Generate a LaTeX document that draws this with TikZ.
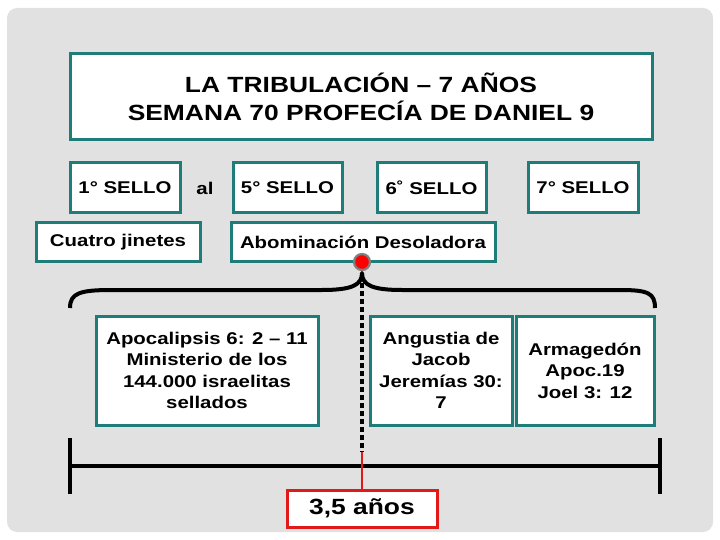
\documentclass[tikz,border=0pt]{standalone}
\usepackage{fontspec}
\setmainfont{Liberation Sans}[FakeStretch=1.2]
\definecolor{sello}{RGB}{30,125,120}
\definecolor{fondo}{RGB}{225,225,225}
\definecolor{rojo}{RGB}{225,25,25}
\begin{document}
\begin{tikzpicture}[x=1pt, y=-1pt,
  caja/.style={draw=sello, line width=3pt, fill=white, inner sep=0pt, align=center,
               font=\bfseries\fontsize{17}{21.5}\selectfont},
  titulo/.style={caja, font=\bfseries\fontsize{22}{28}\selectfont},
  linea/.style={line width=4pt}]
  \useasboundingbox (0,0) rectangle (720,540);
  \fill[fondo, rounded corners=10pt] (7,8) rectangle (713,532);

  \node[titulo, minimum width=582pt, minimum height=86pt] (titulo) at (361,97)
        {LA TRIBULACIÓN – 7 AÑOS\\SEMANA 70 PROFECÍA DE DANIEL 9};

  \node[caja, minimum width=110pt, minimum height=50pt] (sello1) at (125,188) {1° SELLO};
  \node[font=\bfseries\fontsize{17}{21}\selectfont] (al) at (205,188) {al};
  \node[caja, minimum width=109pt, minimum height=50pt] (sello5) at (287.5,188) {5° SELLO};
  \node[caja, minimum width=109pt, minimum height=50pt] (sello6) at (431.5,188) {6˚ SELLO};
  \node[caja, minimum width=110pt, minimum height=50pt] (sello7) at (583,188) {7° SELLO};

  \node[caja, minimum width=164pt, minimum height=38pt] (jinetes) at (118,242) {Cuatro jinetes};
  \node[caja, minimum width=264pt, minimum height=38pt] (abominacion) at (363,242) {Abominación Desoladora};

  % llave
  \coordinate (punta) at (362,273);
  \draw[linea, line join=round] (70,308) .. controls (70,293) and (80,290) .. (112,290) -- (322,290)
        .. controls (352,290) and (362,285) .. (punta)
        .. controls (362,285) and (372,290) .. (402,290) -- (620,290)
        .. controls (648,290) and (655,293) .. (655,308);
  \node[circle, fill=red, draw=gray, line width=2.2pt, minimum size=16pt, inner sep=0pt] (punto) at (362,262) {};

  \node[caja, minimum width=222pt, minimum height=109pt] (apocalipsis) at (207,370.5)
        {Apocalipsis 6: 2 – 11\\Ministerio de los\\144.000 israelitas\\sellados};
  \node[caja, minimum width=142pt, minimum height=109pt] (jacob) at (441,370.5)
        {Angustia de\\Jacob\\Jeremías 30:\\7};
  \node[caja, minimum width=138pt, minimum height=109pt] (armagedon) at (585,370.5)
        {Armagedón\\Apoc.19\\Joel 3: 12};

  % linea de tiempo
  \coordinate (inicio) at (70,466);
  \coordinate (fin) at (660,466);
  \draw[linea] (inicio) -- (fin);
  \draw[linea] ([yshift=-28pt]inicio) -- ([yshift=28pt]inicio);
  \draw[linea] ([yshift=-28pt]fin) -- ([yshift=28pt]fin);

  \node[caja, draw=rojo, minimum width=150pt, minimum height=37pt,
        font=\bfseries\fontsize{22}{26}\selectfont] (anos) at (362,508.5) {3,5 años};

  \coordinate (corte) at (362,452);
  \draw[line width=4.5pt, dash pattern=on 5pt off 3pt] ([yshift=-10pt]punta) -- (corte);
  \draw[rojo, line width=2pt] (corte) -- (anos.north);
\end{tikzpicture}
\end{document}
